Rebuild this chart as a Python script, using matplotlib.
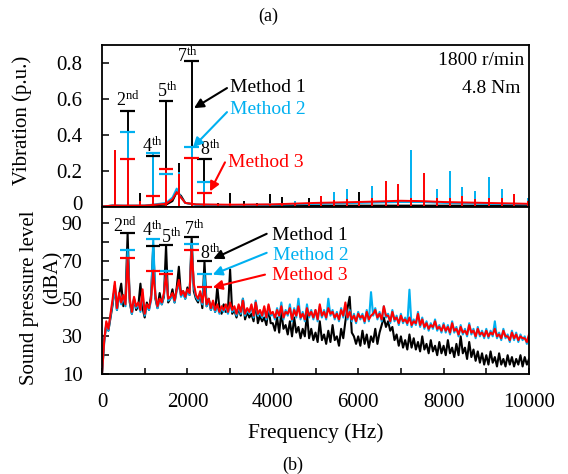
import numpy as np
import matplotlib
matplotlib.use('Agg')
import matplotlib.pyplot as plt
from matplotlib.ticker import MultipleLocator, FixedLocator
import matplotlib.transforms as mtransforms

plt.rcParams['font.family'] = ['Liberation Serif', 'DejaVu Serif']
plt.rcParams['mathtext.fontset'] = 'custom'
plt.rcParams['mathtext.rm'] = 'Liberation Serif'
plt.rcParams['mathtext.it'] = 'Liberation Serif:italic'

BLACK = '#000000'
BLUE = '#00B0F0'
RED = '#FF0000'

# ---------------- data ----------------
methods = ['Method 1', 'Method 2', 'Method 3']
harm_f = [600, 1200, 1500, 2100, 2400]
harm_labels = ['2$^{\\rm nd}$', '4$^{\\rm th}$', '5$^{\\rm th}$', '7$^{\\rm th}$', '8$^{\\rm th}$']

# (a) vibration caps per harmonic
vib_cap_m1 = [0.533, 0.28, 0.587, 0.813, 0.267]
vib_cap_m2 = [0.416, 0.30, 0.179, 0.332, 0.136]
vib_cap_m3 = [0.267, 0.056, 0.209, 0.27, 0.075]

# (a) vibration spectral peaks
vib_pk_f = [300, 600, 900, 1200, 1500, 1810, 2100, 2400, 2720, 3000, 3320, 3630, 3930,
            4220, 4530, 4840, 5130, 5430, 5740, 6030, 6330, 6640, 6940, 7230, 7540,
            7840, 8150, 8440, 8740, 9060, 9370, 9650, 9970]
vib_pk_m1 = [0.22, 0.533, 0.075, 0.28, 0.587, 0.24, 0.813, 0.267, 0.02, 0.075, 0.03, 0.02, 0.067,
             0.052, 0.012, 0.045, 0.02, 0.02, 0.05, 0.08, 0.02, 0.025, 0.03, 0.03, 0.03,
             0.02, 0.025, 0.02, 0.02, 0.02, 0.02, 0.02, 0.02]
vib_pk_m2 = [0.31, 0.416, 0.02, 0.30, 0.179, 0.19, 0.332, 0.136, 0.01, 0.02, 0.01, 0.01, 0.02,
             0.02, 0.03, 0.02, 0.03, 0.08, 0.095, 0.03, 0.112, 0.06, 0.06, 0.313, 0.08,
             0.10, 0.20, 0.108, 0.086, 0.164, 0.10, 0.05, 0.045]
vib_pk_m3 = [0.313, 0.267, 0.03, 0.056, 0.209, 0.18, 0.27, 0.075, 0.015, 0.02, 0.01, 0.01, 0.015,
             0.015, 0.015, 0.02, 0.056, 0.035, 0.04, 0.03, 0.045, 0.14, 0.127, 0.05, 0.186,
             0.05, 0.05, 0.06, 0.04, 0.05, 0.045, 0.067, 0.03]

# (a) vibration background floor
vib_floor_f = [0, 250, 500, 1000, 1500, 1650, 1750, 1850, 1950, 2200, 3000, 4000, 5000,
               6000, 7000, 7500, 8000, 9000, 10000]
vib_floor_m1 = [0, 0.005, 0.003, 0.004, 0.01, 0.03, 0.08, 0.06, 0.02, 0.01, 0.005, 0.005, 0.005,
                0.005, 0.005, 0.005, 0.005, 0.005, 0.005]
vib_floor_m2 = [0, 0.005, 0.005, 0.005, 0.02, 0.05, 0.10, 0.05, 0.02, 0.01, 0.008, 0.01, 0.015,
                0.02, 0.025, 0.025, 0.02, 0.015, 0.012]
vib_floor_m3 = [0, 0.005, 0.005, 0.005, 0.015, 0.04, 0.08, 0.05, 0.02, 0.012, 0.01, 0.012, 0.02,
                0.025, 0.032, 0.03, 0.025, 0.02, 0.015]

# (b) sound pressure level caps per harmonic
spl_cap_m1 = [84.7, 77.9, 78.3, 82.7, 69.9]
spl_cap_m2 = [76.1, 81.5, 64.9, 79.1, 63.2]
spl_cap_m3 = [71.7, 64.9, 63.2, 76.1, 56.0]

# (b) SPL spectra sampled every 50 Hz from 0 to 10000 Hz
spl_f = np.arange(0, 10001, 50)
spl_m1 = [
    10, 28, 36, 33, 40, 47, 57, 44, 52, 58, 46, 50, 84.7, 48, 42, 50, 44, 46, 58, 45,
    40, 48, 44, 52, 77.9, 50, 45, 53, 47, 51, 78.3, 48, 50, 55, 48, 56, 67, 52, 54, 50,
    56, 52, 82.7, 54, 50, 48, 53, 45, 69.9, 46, 50, 44, 48, 43, 56.5, 45, 42, 47, 43, 44,
    65.5, 42, 44, 40, 45, 41, 50, 39, 43, 40, 42, 38, 48, 37, 41, 38, 40, 36, 45, 37,
    37, 33, 40, 32, 43, 34, 36, 31, 38, 30, 40, 32, 35, 29, 34, 30, 42, 29, 34, 28,
    32, 27, 38, 28, 31, 26, 33, 27, 36, 28, 30, 25, 34, 29, 38, 45, 51, 32, 30, 26,
    30, 25, 33, 26, 31, 24, 30, 27, 34, 26, 32, 36, 40, 35, 38, 33, 35, 28, 31, 25,
    30, 24, 28, 23, 31, 24, 29, 23, 27, 22, 30, 23, 26, 21, 28, 22, 25, 20, 27, 21,
    25, 20, 28, 21, 24, 19, 26, 20, 30, 21, 24, 18, 27, 19, 23, 17, 22, 16, 21, 15,
    20, 15, 22, 16, 19, 14, 21, 15, 18, 14, 20, 15, 19, 14, 18, 15, 20, 14, 19, 15,
    18]
spl_m2 = [
    10, 26, 37, 33, 41, 48, 56, 44, 52, 47, 51, 46, 76.1, 49, 42, 50, 45, 47, 43, 53,
    41, 46, 44, 49, 81.5, 51, 45, 49, 47, 52, 64.9, 49, 50, 52, 48, 54, 58, 51, 53, 50,
    54, 52, 79.1, 56, 51, 49, 53, 47, 63.2, 46, 49, 44, 48, 43, 46, 42, 45, 43, 46, 42,
    47, 43, 45, 41, 46, 42, 50, 41, 44, 42, 46, 40, 49, 41, 43, 40, 45, 39, 46, 41,
    42, 39, 45, 40, 48, 39, 44, 41, 47, 38, 45, 40, 50, 39, 43, 38, 47, 40, 44, 39,
    44, 38, 46, 40, 44, 39, 50, 41, 44, 39, 43, 38, 45, 40, 47, 39, 44, 38, 42, 37,
    43, 39, 42, 37, 44, 38, 53.5, 41, 45, 39, 43, 38, 46, 40, 42, 37, 44, 38, 41, 36,
    42, 37, 40, 36, 54.8, 35, 39, 36, 43, 35, 40, 34, 38, 33, 37, 34, 39, 33, 36, 32,
    37, 32, 36, 31, 38, 32, 35, 30, 36, 31, 34, 30, 37, 31, 34, 29, 35, 30, 33, 29,
    34, 29, 33, 30, 38, 29, 32, 28, 34, 29, 31, 27, 33, 28, 32, 27, 31, 28, 30, 26,
    30]
spl_m3 = [
    10, 27, 38, 34, 42, 50, 59, 45, 53, 48, 52, 47, 71.7, 50, 43, 51, 46, 48, 44, 55,
    42, 47, 45, 50, 64.9, 52, 46, 50, 48, 53, 63.2, 50, 51, 53, 49, 55, 60, 52, 54, 51,
    55, 53, 76.1, 58, 52, 50, 54, 48, 56, 47, 50, 45, 49, 44, 47, 43, 46, 44, 47, 43,
    48, 44, 46, 42, 47, 43, 49, 42, 45, 43, 47, 41, 48, 42, 44, 41, 46, 40, 47, 42,
    43, 40, 44, 41, 46, 40, 43, 42, 45, 39, 44, 41, 46, 40, 42, 39, 45, 41, 43, 40,
    44, 39, 47, 41, 43, 40, 45, 42, 43, 40, 42, 39, 44, 41, 48, 40, 43, 39, 41, 38,
    42, 40, 41, 38, 43, 39, 41, 42, 44, 40, 42, 39, 46, 41, 41, 38, 43, 39, 40, 37,
    41, 38, 39, 37, 40, 36, 38, 37, 42, 36, 39, 35, 37, 34, 36, 35, 38, 34, 35, 33,
    36, 33, 35, 32, 37, 33, 34, 31, 35, 32, 33, 31, 36, 32, 33, 30, 34, 31, 32, 30,
    33, 30, 32, 31, 34, 30, 31, 29, 33, 30, 30, 28, 32, 29, 31, 28, 30, 29, 29, 27,
    31]

# ---------------- figure ----------------
fig = plt.figure(figsize=(5.68, 4.74), dpi=100)
W, H = 568.0, 474.0
L, R = 102, 529
ax1 = fig.add_axes([L / W, 1 - 206.5 / H, (R - L) / W, (206.5 - 45) / H])
ax2 = fig.add_axes([L / W, 1 - 374 / H, (R - L) / W, (374 - 206.5) / H])

colors = [BLACK, BLUE, RED]
TICK_FS = 15

# ---- (a) vibration ----
for floor, pk, c in zip([vib_floor_m1, vib_floor_m2, vib_floor_m3],
                        [vib_pk_m1, vib_pk_m2, vib_pk_m3], colors):
    ax1.vlines(vib_pk_f, 0, pk, color=c, lw=1.4)
    ax1.plot(vib_floor_f, floor, color=c, lw=1.4)

cap_half = 170
for caps, c in zip([vib_cap_m1, vib_cap_m2, vib_cap_m3], colors):
    ax1.hlines(caps, np.array(harm_f) - cap_half, np.array(harm_f) + cap_half, color=c, lw=1.6)

vib_lab_pos = [(597, 0.559), (1171, 0.304), (1538, 0.61), (2007, 0.807), (2529, 0.285)]
for lab, (x, y) in zip(harm_labels, vib_lab_pos):
    ax1.text(x, y, lab, ha='center', va='baseline', fontsize=13)

ax1.set_xlim(0, 10000)
ax1.set_ylim(0, 0.9)
ax1.yaxis.set_major_locator(FixedLocator([0, 0.2, 0.4, 0.6, 0.8]))
ax1.set_yticklabels(['0', '0.2', '0.4', '0.6', '0.8'])
ax1.set_xticks([])
ax1.tick_params(axis='y', direction='in', length=5, width=1.1, labelsize=TICK_FS, pad=14)

# nudge the "0" label up a little so it clears the "90" below
zero_lab = ax1.get_yticklabels()[0]
zero_lab.set_transform(zero_lab.get_transform() +
                       mtransforms.ScaledTranslation(0, 3 / 100, fig.dpi_scale_trans))

fig.text(22 / W, 1 - 120 / H, 'Vibration (p.u.)', rotation=90, fontsize=15,
         ha='center', va='center')

def annot(ax, txt, c, tail, tip, tpos, fs=14):
    ax.annotate('', xy=tip, xytext=tail,
                arrowprops=dict(arrowstyle='-|>', color=c, lw=1.5, mutation_scale=14,
                                shrinkA=0, shrinkB=0))
    ax.text(tpos[0], tpos[1], txt, color=c, fontsize=fs, ha='left', va='center')

annot(ax1, methods[0], BLACK, (2927, 0.66), (2155, 0.548), (2998, 0.665))
annot(ax1, methods[1], BLUE, (2927, 0.526), (2131, 0.33), (2998, 0.54))
annot(ax1, methods[2], RED, (2880, 0.246), (2529, 0.084), (2951, 0.245))

ax1.text(7869, 0.811, '1800 r/min', fontsize=14, ha='left', va='center')
ax1.text(8431, 0.66, '4.8 Nm', fontsize=14, ha='left', va='center')

# ---- (b) sound pressure level ----
for spl, c in zip([spl_m1, spl_m2, spl_m3], colors):
    ax2.plot(spl_f, spl, color=c, lw=1.5)

for caps, c in zip([spl_cap_m1, spl_cap_m2, spl_cap_m3], colors):
    ax2.hlines(caps, np.array(harm_f) - cap_half, np.array(harm_f) + cap_half, color=c, lw=1.6)

spl_lab_pos = [(539, 85.4), (1171, 83.2), (1632, 79.7), (2155, 83.6), (2529, 71.3)]
for lab, (x, y) in zip(harm_labels, spl_lab_pos):
    ax2.text(x, y, lab, ha='center', va='baseline', fontsize=13)

annot(ax2, methods[0], BLACK, (3857, 84.5), (2607, 71.2), (3981, 83.8))
annot(ax2, methods[1], BLUE, (3857, 74.4), (2593, 62.8), (3998, 73.2))
annot(ax2, methods[2], RED, (3817, 62.8), (2593, 56.0), (3981, 62.2))

ax2.set_xlim(0, 10000)
ax2.set_ylim(10, 99)
ax2.yaxis.set_major_locator(FixedLocator([10, 30, 50, 70, 90]))
ax2.yaxis.set_minor_locator(FixedLocator([20, 40, 60, 80]))
ax2.xaxis.set_major_locator(MultipleLocator(2000))
ax2.xaxis.set_minor_locator(MultipleLocator(1000))
ax2.tick_params(axis='y', which='both', direction='in', length=5, width=1.1,
                labelsize=TICK_FS, pad=14)
ax2.tick_params(axis='x', which='both', direction='in', length=4, width=1.1,
                labelsize=TICK_FS, pad=14)
ax2.set_xlabel('Frequency (Hz)', fontsize=15.5)
ax2.xaxis.set_label_coords(0.5, -(433 - 374) / (374 - 206.5))
ax2.xaxis.label.set_va('center')

fig.text(30 / W, 1 - 298 / H, 'Sound pressure level', rotation=90, fontsize=15,
         ha='center', va='center')
fig.text(53 / W, 1 - 277 / H, '(dBA)', rotation=90, fontsize=15, ha='center', va='center')

for ax in (ax1, ax2):
    for sp in ax.spines.values():
        sp.set_linewidth(1.3)

fig.text(268 / W, 1 - 16 / H, '(a)', fontsize=13, ha='center', va='center')
fig.text(293 / W, 1 - 465 / H, '(b)', fontsize=13, ha='center', va='center')

fig.savefig('out.png', dpi=100)
